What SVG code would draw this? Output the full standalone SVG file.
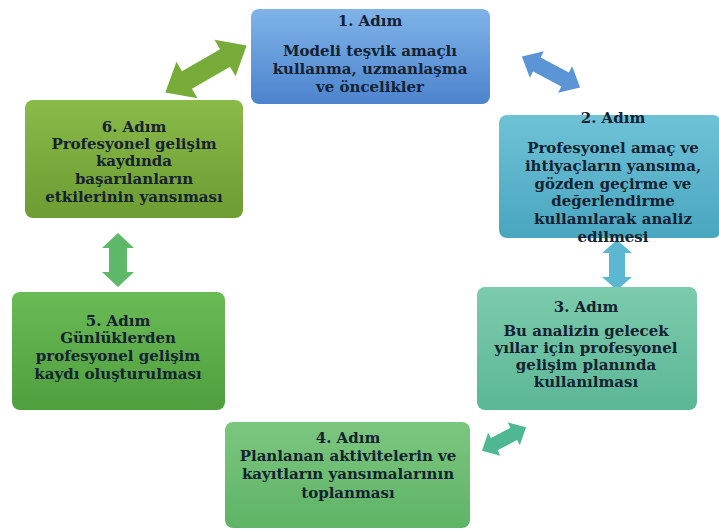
<svg xmlns="http://www.w3.org/2000/svg" width="719" height="531" viewBox="0 0 719 531">
  <defs>
    <linearGradient id="g1" x1="0" y1="0" x2="0" y2="1">
      <stop offset="0" stop-color="#7fb3e8"/>
      <stop offset="1" stop-color="#4c84cd"/>
    </linearGradient>
    <linearGradient id="g2" x1="0" y1="0" x2="0" y2="1">
      <stop offset="0" stop-color="#6fc2d6"/>
      <stop offset="1" stop-color="#48a6bf"/>
    </linearGradient>
    <linearGradient id="g3" x1="0" y1="0" x2="0" y2="1">
      <stop offset="0" stop-color="#7ccbac"/>
      <stop offset="1" stop-color="#5bb796"/>
    </linearGradient>
    <linearGradient id="g4" x1="0" y1="0" x2="0" y2="1">
      <stop offset="0" stop-color="#7cc67f"/>
      <stop offset="1" stop-color="#5eb465"/>
    </linearGradient>
    <linearGradient id="g5" x1="0" y1="0" x2="0" y2="1">
      <stop offset="0" stop-color="#6aba56"/>
      <stop offset="1" stop-color="#4f9f3e"/>
    </linearGradient>
    <linearGradient id="g6" x1="0" y1="0" x2="0" y2="1">
      <stop offset="0" stop-color="#8aba48"/>
      <stop offset="1" stop-color="#6c9c33"/>
    </linearGradient>
  </defs>
  <style>
    .box { stroke: none; }
    .lbl { font-family: "DejaVu Serif", "Liberation Serif", serif; font-weight: bold; font-size: 15px; fill: #152231; text-anchor: middle; }
  </style>

  <rect width="719" height="531" fill="#ffffff"/>

  <!-- connectors: double-headed block arrows -->
  <g id="connectors">
    <!-- step 6 <-> step 1 -->
    <path fill="#77ab3a" transform="translate(206,69) rotate(-30)" d="M-47 0 L-22 -21 L-22 -10 L22 -10 L22 -21 L47 0 L22 21 L22 10 L-22 10 L-22 21 Z"/>
    <!-- step 1 <-> step 2 -->
    <path fill="#5b95d6" transform="translate(551,72) rotate(28)" d="M-33 0 L-16 -15 L-16 -8 L16 -8 L16 -15 L33 0 L16 15 L16 8 L-16 8 L-16 15 Z"/>
    <!-- step 2 <-> step 3 -->
    <path fill="#5bb8d0" transform="translate(617,265) rotate(90)" d="M-25 0 L-12 -15 L-12 -8 L12 -8 L12 -15 L25 0 L12 15 L12 8 L-12 8 L-12 15 Z"/>
    <!-- step 3 <-> step 4 -->
    <path fill="#4fb893" transform="translate(504,439) rotate(-28)" d="M-25 0 L-11 -13 L-11 -7 L11 -7 L11 -13 L25 0 L11 13 L11 7 L-11 7 L-11 13 Z"/>
    <!-- step 6 <-> step 5 -->
    <path fill="#5fb868" transform="translate(118,260) rotate(90)" d="M-27 0 L-12 -16 L-12 -9 L12 -9 L12 -16 L27 0 L12 16 L12 9 L-12 9 L-12 16 Z"/>
  </g>

  <g id="step1">
    <rect class="box" x="251" y="9" width="239" height="95" rx="8" fill="url(#g1)"/>
    <text class="lbl" x="370" y="26">1. Adım</text>
    <text class="lbl" x="370" y="56">Modeli teşvik amaçlı</text>
    <text class="lbl" x="370" y="74">kullanma, uzmanlaşma</text>
    <text class="lbl" x="370" y="92">ve öncelikler</text>
  </g>

  <g id="step2">
    <rect class="box" x="499" y="115" width="222" height="123" rx="8" fill="url(#g2)"/>
    <text class="lbl" x="613" y="123">2. Adım</text>
    <text class="lbl" x="613" y="153">Profesyonel amaç ve</text>
    <text class="lbl" x="613" y="171">ihtiyaçların yansıma,</text>
    <text class="lbl" x="613" y="189">gözden geçirme ve</text>
    <text class="lbl" x="613" y="206">değerlendirme</text>
    <text class="lbl" x="613" y="224">kullanılarak analiz</text>
    <text class="lbl" x="613" y="242">edilmesi</text>
  </g>

  <g id="step3">
    <rect class="box" x="477" y="287" width="220" height="123" rx="8" fill="url(#g3)"/>
    <text class="lbl" x="586" y="312">3. Adım</text>
    <text class="lbl" x="586" y="336">Bu analizin gelecek</text>
    <text class="lbl" x="586" y="353">yıllar için profesyonel</text>
    <text class="lbl" x="586" y="370">gelişim planında</text>
    <text class="lbl" x="586" y="387">kullanılması</text>
  </g>

  <g id="step4">
    <rect class="box" x="225" y="422" width="245" height="106" rx="8" fill="url(#g4)"/>
    <text class="lbl" x="348" y="443">4. Adım</text>
    <text class="lbl" x="348" y="461">Planlanan aktivitelerin ve</text>
    <text class="lbl" x="348" y="479">kayıtların yansımalarının</text>
    <text class="lbl" x="348" y="498">toplanması</text>
  </g>

  <g id="step5">
    <rect class="box" x="12" y="292" width="213" height="118" rx="8" fill="url(#g5)"/>
    <text class="lbl" x="118" y="326">5. Adım</text>
    <text class="lbl" x="118" y="343">Günlüklerden</text>
    <text class="lbl" x="118" y="361">profesyonel gelişim</text>
    <text class="lbl" x="118" y="379">kaydı oluşturulması</text>
  </g>

  <g id="step6">
    <rect class="box" x="25" y="100" width="218" height="118" rx="8" fill="url(#g6)"/>
    <text class="lbl" x="134" y="132">6. Adım</text>
    <text class="lbl" x="134" y="149">Profesyonel gelişim</text>
    <text class="lbl" x="134" y="166">kaydında</text>
    <text class="lbl" x="134" y="184">başarılanların</text>
    <text class="lbl" x="134" y="202">etkilerinin yansıması</text>
  </g>
</svg>
